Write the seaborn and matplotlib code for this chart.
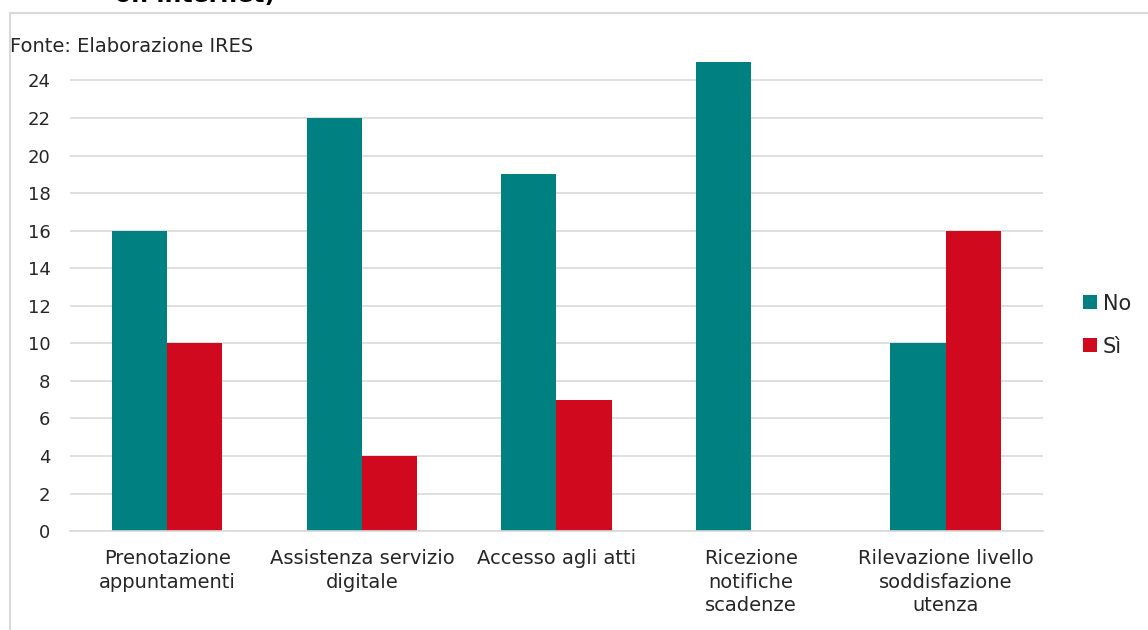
import matplotlib
matplotlib.use("Agg")
import matplotlib.pyplot as plt
import matplotlib.patches as mpatches
import seaborn as sns
import pandas as pd

categories = [
    "Prenotazione\nappuntamenti",
    "Assistenza servizio\ndigitale",
    "Accesso agli atti",
    "Ricezione\nnotifiche\nscadenze",
    "Rilevazione livello\nsoddisfazione\nutenza",
]
no_values = [16, 22, 19, 25, 10]
si_values = [10, 4, 7, 0, 16]
series = ["No", "Sì"]
colors = ["#008080", "#D0091F"]
yticks = list(range(0, 25, 2))

df = pd.DataFrame({
    "categoria": categories * 2,
    "valore": no_values + si_values,
    "serie": [series[0]] * len(categories) + [series[1]] * len(categories),
})

sns.set_style("white")
plt.rcParams["font.family"] = ["DejaVu Sans"]

fig = plt.figure(figsize=(11.48, 6.30), dpi=100)
ax = fig.add_axes([0.061, 0.157, 0.8475, 0.760])

# outer chart frame (light gray)
fig.patches.append(mpatches.Rectangle((10 / 1148, -0.01), 1.02, 1 - 13 / 630 + 0.01,
                                      transform=fig.transFigure, fill=False,
                                      edgecolor="#D9D9D9", linewidth=1.5))

sns.barplot(data=df, x="categoria", y="valore", hue="serie", palette=colors,
            width=0.567, gap=0, saturation=1, ax=ax, linewidth=0, legend=True)

ax.set_xlim(-0.5, 4.5)
ax.set_ylim(0, 25.5)
ax.set_yticks(yticks)
ax.yaxis.grid(True, color="#D9D9D9", linewidth=1.2)
ax.set_axisbelow(True)
for s in ["top", "right", "left"]:
    ax.spines[s].set_visible(False)
ax.spines["bottom"].set_color("#D9D9D9")
ax.spines["bottom"].set_linewidth(1.2)
ax.tick_params(axis="both", length=0, colors="#262626")
ax.tick_params(axis="y", pad=14, labelsize=13)
ax.tick_params(axis="x", pad=13, labelsize=14)
for lab in ax.get_xticklabels():
    lab.set_linespacing(1.3)
ax.set_xlabel("")
ax.set_ylabel("")

leg = ax.legend(loc="center left", bbox_to_anchor=(1.022, 0.43), frameon=False,
                fontsize=15, handlelength=0.65, handleheight=0.65, handletextpad=0.3,
                labelspacing=1.1)

fig.text(10 / 1148, 1 - 47 / 630, "Fonte: Elaborazione IRES", fontsize=14,
         color="#262626", va="center", ha="left")
# title cut off at the top of the picture
fig.text(195 / 1148, 1 - 2 / 630, "on internet)", fontsize=17, fontweight="bold",
         color="#000000", ha="center", va="baseline")

fig.savefig("out.png", dpi=100)
